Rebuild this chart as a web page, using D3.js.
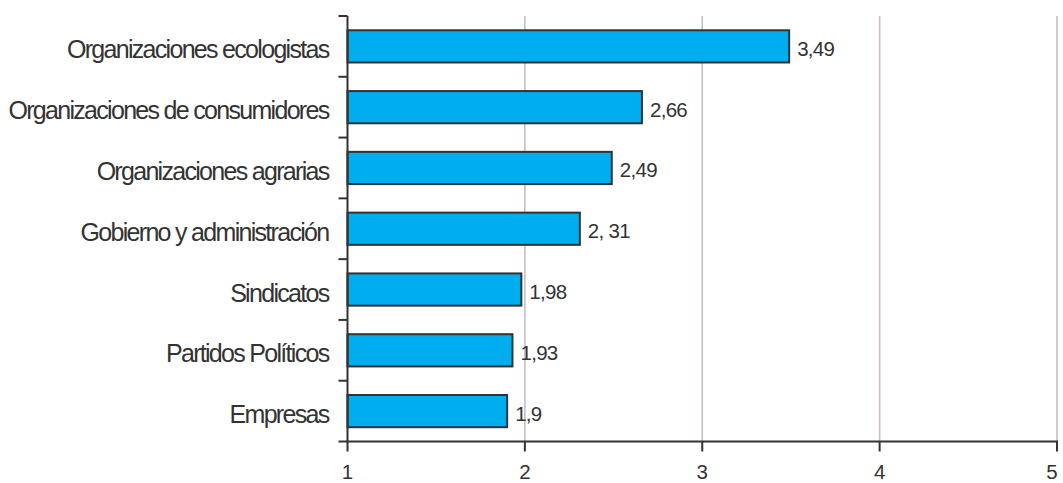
<!DOCTYPE html>
<html><head><meta charset="utf-8">
<script src="https://cdn.jsdelivr.net/npm/d3@7"></script>
<style>
html,body{margin:0;padding:0;background:#fff;overflow:hidden;}
svg{display:block;}
text{font-family:"Liberation Sans",Arial,sans-serif;fill:#333;}
</style></head>
<body>
<svg id="chart" width="1063" height="483"></svg>
<script>
const categories = ["Organizaciones ecologistas","Organizaciones de consumidores","Organizaciones agrarias","Gobierno y administración","Sindicatos","Partidos Políticos","Empresas"];
const values = [3.49, 2.66, 2.49, 2.31, 1.98, 1.93, 1.9];
const valueLabels = ["3,49","2,66","2,49","2, 31","1,98","1,93","1,9"];
const xTicks = [1, 2, 3, 4, 5];

(function () {
const svg = d3.select("#chart");
const mLeft = 347.5, mRight = 1057, mTop = 16, mBottom = 441.5;

const x = d3.scaleLinear().domain([1, 5]).range([mLeft, mRight]);
const y = d3.scaleBand().domain(categories).range([mTop, mBottom]).paddingInner(0.47).paddingOuter(0.235);

// gridlines
svg.append("g").selectAll("line").data(xTicks.slice(1)).join("line")
  .attr("x1", d => x(d)).attr("x2", d => x(d))
  .attr("y1", mTop).attr("y2", mBottom)
  .attr("stroke", "#c9bfbf").attr("stroke-width", 1.6);

// bars
svg.append("g").selectAll("rect").data(values).join("rect")
  .attr("x", x(1))
  .attr("y", (d, i) => y(categories[i]))
  .attr("width", d => x(d) - x(1))
  .attr("height", y.bandwidth())
  .attr("fill", "#00aeef")
  .attr("stroke", "#333")
  .attr("stroke-width", 2);

// value labels
svg.append("g").selectAll("text").data(values).join("text")
  .attr("x", d => x(d) + 8)
  .attr("y", (d, i) => y(categories[i]) + y.bandwidth() / 2)
  .attr("dy", "0.46em")
  .attr("font-size", 20.5)
  .attr("letter-spacing", -0.7)
  .text((d, i) => valueLabels[i]);

// y axis line
svg.append("line").attr("x1", mLeft).attr("x2", mLeft).attr("y1", mTop).attr("y2", mBottom)
  .attr("stroke", "#333").attr("stroke-width", 2);
// y ticks at band boundaries
const yBounds = d3.range(categories.length + 1).map(i => mTop + i * (mBottom - mTop) / categories.length);
svg.append("g").selectAll("line").data(yBounds).join("line")
  .attr("x1", mLeft - 9).attr("x2", mLeft)
  .attr("y1", d => d).attr("y2", d => d)
  .attr("stroke", "#333").attr("stroke-width", 2);
// category labels
svg.append("g").selectAll("text").data(categories).join("text")
  .attr("x", mLeft - 19)
  .attr("y", d => y(d) + y.bandwidth() / 2)
  .attr("dy", "0.48em")
  .attr("text-anchor", "end")
  .attr("font-size", 25)
  .attr("letter-spacing", -1.7)
  .text(d => d);

// x axis
svg.append("line").attr("x1", mLeft - 1).attr("x2", mRight + 1).attr("y1", mBottom).attr("y2", mBottom)
  .attr("stroke", "#333").attr("stroke-width", 2);
svg.append("g").selectAll("line").data(xTicks).join("line")
  .attr("x1", d => x(d)).attr("x2", d => x(d))
  .attr("y1", mBottom).attr("y2", mBottom + 10)
  .attr("stroke", "#333").attr("stroke-width", 2);
svg.append("g").selectAll("text").data(xTicks).join("text")
  .attr("x", d => Math.min(x(d), 1052))
  .attr("y", 478.5)
  .attr("text-anchor", "middle")
  .attr("font-size", 20.5)
  .text(d => d);
})();
</script>
</body></html>
